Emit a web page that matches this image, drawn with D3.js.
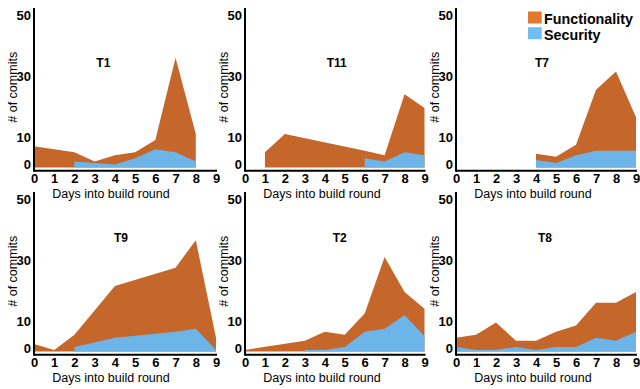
<!DOCTYPE html>
<html>
<head>
<meta charset="utf-8">
<script src="https://cdn.jsdelivr.net/npm/d3@7"></script>
<style>
  html, body { margin: 0; padding: 0; background: #fff; }
  svg { display: block; }
  text { font-family: Helvetica, Arial, "Liberation Sans", sans-serif; fill: #000; }
</style>
</head>
<body>
<svg id="chart" width="640" height="389"></svg>
<script>
// ---------- data ----------
const days = [0, 1, 2, 3, 4, 5, 6, 7, 8, 9];
const teams = ["T1", "T11", "T7", "T9", "T2", "T8"];
const yTickValues = [0, 10, 30, 50];
const seriesNames = ["Functionality", "Security"];

// commits per day (null = no point on that day)
const t1Functionality  = [7, null, 3, 0.5, 3, 2, 3, 31, 9, null];
const t1Security       = [null, null, 2, 1.5, 1, 3, 6, 5, 2, null];
const t11Functionality = [null, 5, 11, null, null, null, 2.5, 2, 19, 15.5];
const t11Security      = [null, null, null, null, null, null, 3, 2, 5, 4];
const t7Functionality  = [null, null, null, null, 2, 2, 3.5, 20, 26, 11];
const t7Security       = [null, null, null, null, 2.5, 1.5, 4, 5.5, 5.5, 5.5];
const t9Functionality  = [2.5, 0.5, 4, null, 17, null, null, 21, 29, 4];
const t9Security       = [null, null, 1.5, null, 4.5, null, null, 6.5, 7.5, 0.5];
const t2Functionality  = [0.5, null, null, 3, 6, 4, 6, 23.5, 7.5, 9];
const t2Security       = [null, null, null, 0.5, 0.5, 1.5, 6.5, 7.5, 12, 5];
const t8Functionality  = [3, 5, 9, 2, 3, 5, 7, 11.5, 12.5, 13];
const t8Security       = [1.5, 0.5, 0.5, 1.5, 0.5, 1.5, 1.5, 4.5, 3.5, 6.5];

const functionalitySeries = [t1Functionality, t11Functionality, t7Functionality, t9Functionality, t2Functionality, t8Functionality];
const securitySeries = [t1Security, t11Security, t7Security, t9Security, t2Security, t8Security];

// ---------- layout ----------
const colX0 = [34, 245, 456];
const colW = [182, 179.5, 180];
const rowY0 = [167.5, 351.5];
const plotH50 = 152.5;
const titleDay = [3.43, 4.6, 4.3, 4.3, 4.75, 4.45];
const titleVal = [32.8, 32.8, 32.8, 36, 36, 36];
const colors = { Functionality: "#C5662A", Security: "#6DB4E8" };
const legendColors = { Functionality: "#E2792F", Security: "#70BCF4" };

const svg = d3.select("#chart");

teams.forEach((team, i) => {
  const col = i % 3, row = Math.floor(i / 3);
  const x = d3.scaleLinear().domain([0, 9]).range([colX0[col], colX0[col] + colW[col]]);
  const y = d3.scaleLinear().domain([0, 50]).range([rowY0[row], rowY0[row] - plotH50]);
  const g = svg.append("g");

  const func = functionalitySeries[i], sec = securitySeries[i];
  const pts = days
    .filter(d => func[d] != null || sec[d] != null)
    .map(d => ({ day: d, sec: sec[d] == null ? 0 : sec[d], total: (func[d] || 0) + (sec[d] || 0), hasSec: sec[d] != null }));

  const totalArea = d3.area().x(d => x(d.day)).y0(y(0)).y1(d => y(d.total));
  const secArea = d3.area().x(d => x(d.day)).y0(y(0)).y1(d => y(d.sec));

  g.append("path").datum(pts).attr("d", totalArea).attr("fill", colors.Functionality);
  g.append("path").datum(pts.filter(d => d.hasSec)).attr("d", secArea).attr("fill", colors.Security);

  const axisY = y(0) + 3.3;

  // x axis
  const xAxis = g.append("g").attr("transform", `translate(0,${axisY})`)
    .call(d3.axisBottom(x).tickValues(days).tickFormat(d3.format("d")).tickSize(0).tickPadding(3));
  xAxis.select(".domain").remove();
  xAxis.selectAll("text").style("font-size", "13px").style("font-weight", "bold").attr("fill", "#000");
  g.append("line")
    .attr("x1", x(0)).attr("x2", x(9) + 1)
    .attr("y1", axisY).attr("y2", axisY)
    .attr("stroke", "#000").attr("stroke-width", 2);

  // y axis
  const yAxis = g.append("g").attr("transform", `translate(${x(0)},0)`)
    .call(d3.axisLeft(y).tickValues(yTickValues).tickSize(0).tickPadding(3));
  yAxis.select(".domain").remove();
  yAxis.selectAll("text").style("font-size", "13px").style("font-weight", "bold").attr("fill", "#000")
    .attr("dy", d => d === 0 ? "0.05em" : "0.32em");
  g.append("line")
    .attr("x1", x(0)).attr("x2", x(0))
    .attr("y1", y(52.3)).attr("y2", axisY + 1)
    .attr("stroke", "#000").attr("stroke-width", 2);

  // axis titles
  g.append("text")
    .attr("x", x(0) + 77).attr("y", y(0) + 30)
    .attr("text-anchor", "middle")
    .style("font-size", "12.5px")
    .text("Days into build round");
  g.append("text")
    .attr("transform", `translate(${x(0) - 17},${y(26.3)}) rotate(-90)`)
    .attr("text-anchor", "middle")
    .style("font-size", "12.5px")
    .text("# of commits");

  // panel title
  g.append("text")
    .attr("x", x(titleDay[i])).attr("y", y(titleVal[i]))
    .attr("text-anchor", "middle")
    .style("font-size", "12px").style("font-weight", "bold")
    .text(team);
});

// legend
const legend = svg.append("g").attr("transform", "translate(528,11.5)");
seriesNames.forEach((name, k) => {
  legend.append("rect")
    .attr("x", 0).attr("y", k * 15.7)
    .attr("width", 13.7).attr("height", 12)
    .attr("fill", legendColors[name]);
  legend.append("text")
    .attr("x", 16).attr("y", k * 15.7 + 12.3)
    .style("font-size", "14.3px").style("font-weight", "bold")
    .text(name);
});
</script>
</body>
</html>
